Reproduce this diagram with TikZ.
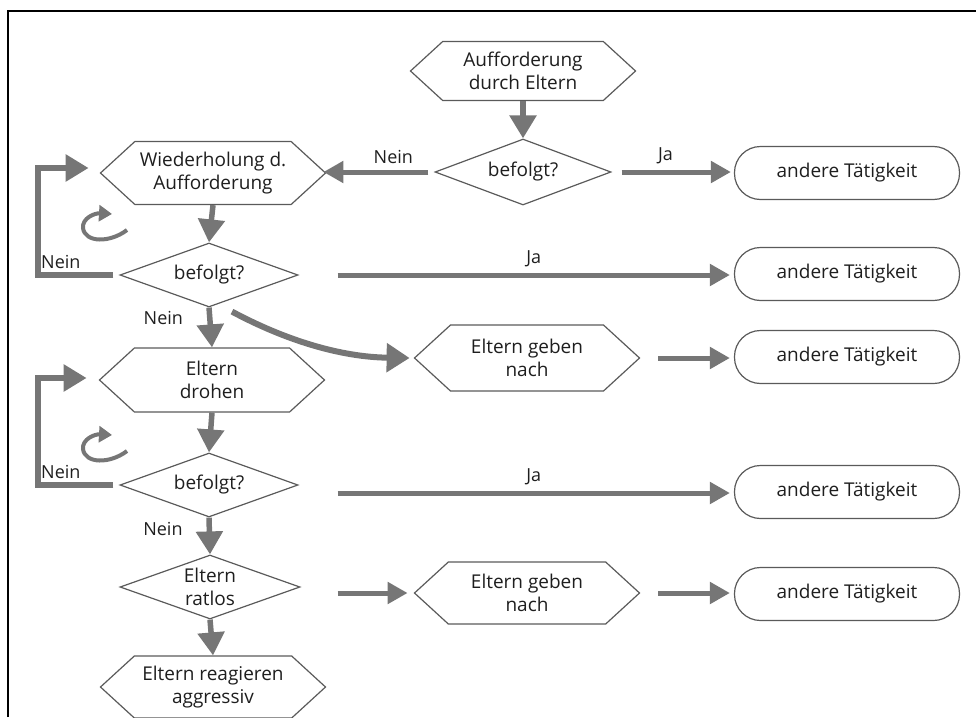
\documentclass[tikz,border=0pt]{standalone}
\usepackage{fontspec}
\setmainfont{Open Sans}
\usetikzlibrary{arrows.meta,shapes.geometric,shapes.symbols,calc}
\definecolor{arrgray}{RGB}{118,118,118}
\definecolor{linegray}{RGB}{90,90,90}
\definecolor{txt}{RGB}{30,30,30}
\tikzset{
  base/.style={draw=linegray, line width=1.2pt, text=txt, font=\fontsize{19}{23}\selectfont, align=center, inner sep=0pt},
  hexa/.style={base, signal, signal to=west and east, signal from=nowhere, signal pointer angle=85, minimum width=225pt, minimum height=63pt},
  dia/.style={base, diamond, aspect=2.8, minimum width=178pt, minimum height=64pt},
  rbox/.style={base, rectangle, rounded corners=26pt, minimum width=225pt, minimum height=53pt},
  arr/.style={draw=arrgray, line width=5.5pt, -{Triangle[length=23pt,width=26pt]}, arrgray},
  harr/.style={draw=arrgray, line width=5pt, -{Triangle[length=20pt,width=21pt]}, arrgray},
  icon/.style={draw=arrgray, line width=4pt, -{Triangle[length=13pt,width=16pt]}, arrgray},
  lab/.style={text=txt, font=\fontsize{18}{20}\selectfont, inner sep=0pt}
}
\begin{document}
\begin{tikzpicture}[x=1pt,y=-1pt]
\useasboundingbox (0,0) rectangle (976,717);
\draw[line width=1.6pt] (8,717) -- (8,11) -- (976,11);

% nodes
\node[hexa, minimum height=59pt] (hA) at (523,71) {Aufforderung\\durch Eltern};
\node[dia, minimum width=176pt, minimum height=66pt] (d1) at (523,172) {befolgt?};
\node[rbox] (b1) at (847,173) {andere Tätigkeit};
\node[hexa] (hW) at (213,173) {Wiederholung d.\\Aufforderung};
\node[dia] (d2) at (209,275) {befolgt?};
\node[rbox] (b2) at (847,274) {andere Tätigkeit};
\node[hexa, minimum height=66pt] (hG1) at (527,358) {Eltern geben\\nach};
\node[rbox] (b3) at (847,357) {andere Tätigkeit};
\node[hexa, minimum height=64pt] (hD) at (212,380) {Eltern\\drohen};
\node[dia] (d3) at (209,485) {befolgt?};
\node[rbox] (b4) at (847,492) {andere Tätigkeit};
\node[dia, minimum width=180pt] (dR) at (210,587) {Eltern\\ratlos};
\node[hexa, minimum height=62pt] (hG2) at (527,593) {Eltern geben\\nach};
\node[rbox] (b5) at (847,594) {andere Tätigkeit};
\node[hexa, minimum height=62pt] (hR) at (213,687) {Eltern reagieren\\aggressiv};

% loop corners
\coordinate (l1) at (38,168);
\coordinate (l2) at (38,378);

% connectors
\draw[arr] (hA.south) -- (d1.north);
\draw[harr, shorten <=6pt, shorten >=-3pt] (d1.west) -- (d1.west -| hW.east) node[lab, pos=0.38, above=6pt] {Nein};
\draw[harr, shorten <=10pt, shorten >=3pt] (d1.east) -- (d1.east -| b1.west) node[lab, pos=0.44, above=6pt] {Ja};

\draw[arr] (hW.south) -- (d2.north);
\draw[harr, shorten <=39pt, shorten >=4pt] (d2.east) -- (d2.east -| b2.west) node[lab, pos=0.54, above=6pt] {Ja};
\draw[arr, line width=6pt, shorten <=6pt, shorten >=11pt] (d2.west) -- (d2.west -| l1) -- (l1) -- (l1 -| hW.west);
\node[lab, anchor=south west] (n1) at (41,269) {Nein};
\draw[icon] (127,230) .. controls (110,243) and (85,243) .. (83,228) .. controls (82,218) and (95,213) .. (112,214);

\draw[arr] (d2.south) -- (hD.north) node[lab, pos=0.25, left=24pt] {Nein};
\draw[arr, line width=6pt, -{Triangle[length=23pt,width=28pt]}] ($(d2.south)+(23,4)$) .. controls (285,340) and (340,357) .. ($(hG1.west)+(-4,0)$);
\draw[harr, shorten <=18pt, shorten >=4pt] (hG1.east) -- (hG1.east -| b3.west);

\draw[arr] (hD.south) -- (d3.north);
\draw[harr, shorten <=39pt, shorten >=4pt] ($(d3.east)+(0,8)$) -- ($(d3.east -| b4.west)+(0,8)$) node[lab, pos=0.54, above=6pt] {Ja};
\draw[arr, line width=6pt, shorten <=6pt, shorten >=12pt] (d3.west) -- (d3.west -| l2) -- (l2) -- (l2 -| hD.west);
\node[lab, anchor=south west] (n2) at (41,479) {Nein};
\draw[icon] (127,451) .. controls (110,464) and (85,464) .. (83,449) .. controls (82,439) and (95,434) .. (112,435);

\draw[arr] (d3.south) -- (dR.north) node[lab, pos=0.3, left=24pt] {Nein};
\draw[harr, shorten <=37pt, shorten >=6pt] ($(dR.east)+(0,6)$) -- (hG2.west);
\draw[harr, shorten <=18pt, shorten >=4pt] (hG2.east) -- (hG2.east -| b5.west);
\draw[arr] (dR.south) -- (hR.north);
\end{tikzpicture}
\end{document}
